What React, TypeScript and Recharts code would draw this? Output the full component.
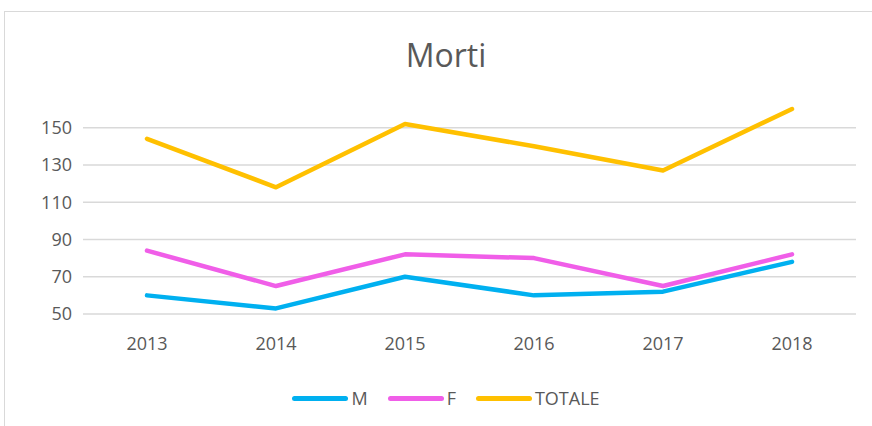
import React from 'react';
import { LineChart, Line, XAxis, YAxis, CartesianGrid } from 'recharts';

const YEARS = ['2013', '2014', '2015', '2016', '2017', '2018'];
const M_VALUES = [60, 53, 70, 60, 62, 78];
const F_VALUES = [84, 65, 82, 80, 65, 82];
const TOTALE_VALUES = [144, 118, 152, 140, 127, 160];
const Y_TICKS = [50, 70, 90, 110, 130, 150];

const SERIES = [
  { key: 'M', color: '#00B0F0' },
  { key: 'F', color: '#F05EE8' },
  { key: 'TOTALE', color: '#FFC000' },
];

const data = YEARS.map((year, i) => ({
  year,
  M: M_VALUES[i],
  F: F_VALUES[i],
  TOTALE: TOTALE_VALUES[i],
}));

const FONT = '"Open Sans", sans-serif';
const TEXT = '#595959';

const App: React.FC = () => {
  return (
    <div style={{ position: 'absolute', left: 0, top: 0, width: 872, height: 426, background: '#fff', overflow: 'hidden', fontFamily: FONT }}>
      <div style={{ position: 'absolute', left: 4, top: 11, width: 900, height: 440, border: '1px solid #d9d9d9' }} />
      <div style={{ position: 'absolute', left: 0, top: 33, width: 892, textAlign: 'center', fontSize: 32, color: TEXT }}>
        Morti
      </div>
      <div style={{ position: 'absolute', left: 0, top: 0 }}>
        <LineChart width={872} height={426} data={data} margin={{ top: 109, right: 16, left: 8, bottom: 82 }}>
          <CartesianGrid vertical={false} horizontalValues={Y_TICKS} stroke="#d9d9d9" strokeWidth={1.5} />
          <XAxis
            dataKey="year"
            axisLine={false}
            tickLine={false}
            tickSize={0}
            tickMargin={23}
            padding={{ left: 64, right: 64 }}
            height={30}
            tick={{ fill: TEXT, fontSize: 18, fontFamily: FONT }}
          />
          <YAxis
            domain={[50, 160]}
            ticks={Y_TICKS}
            axisLine={false}
            tickLine={false}
            tickSize={0}
            tickMargin={11}
            width={75}
            tick={{ fill: TEXT, fontSize: 18, fontFamily: FONT }}
          />
          {SERIES.map((s) => (
            <Line
              key={s.key}
              dataKey={s.key}
              stroke={s.color}
              strokeWidth={4.5}
              strokeLinecap="round"
              strokeLinejoin="round"
              dot={false}
              activeDot={false}
              isAnimationActive={false}
            />
          ))}
        </LineChart>
      </div>
      <div style={{ position: 'absolute', left: 0, top: 386, width: 892, display: 'flex', justifyContent: 'center', alignItems: 'center', fontSize: 18, color: TEXT }}>
        {SERIES.map((s, i) => (
          <div key={s.key} style={{ display: 'flex', alignItems: 'center', marginLeft: i === 0 ? 0 : 20 }}>
            <div style={{ width: 56, height: 5, borderRadius: 3, background: s.color, marginRight: 3 }} />
            <span>{s.key}</span>
          </div>
        ))}
      </div>
    </div>
  );
};

export default App;
